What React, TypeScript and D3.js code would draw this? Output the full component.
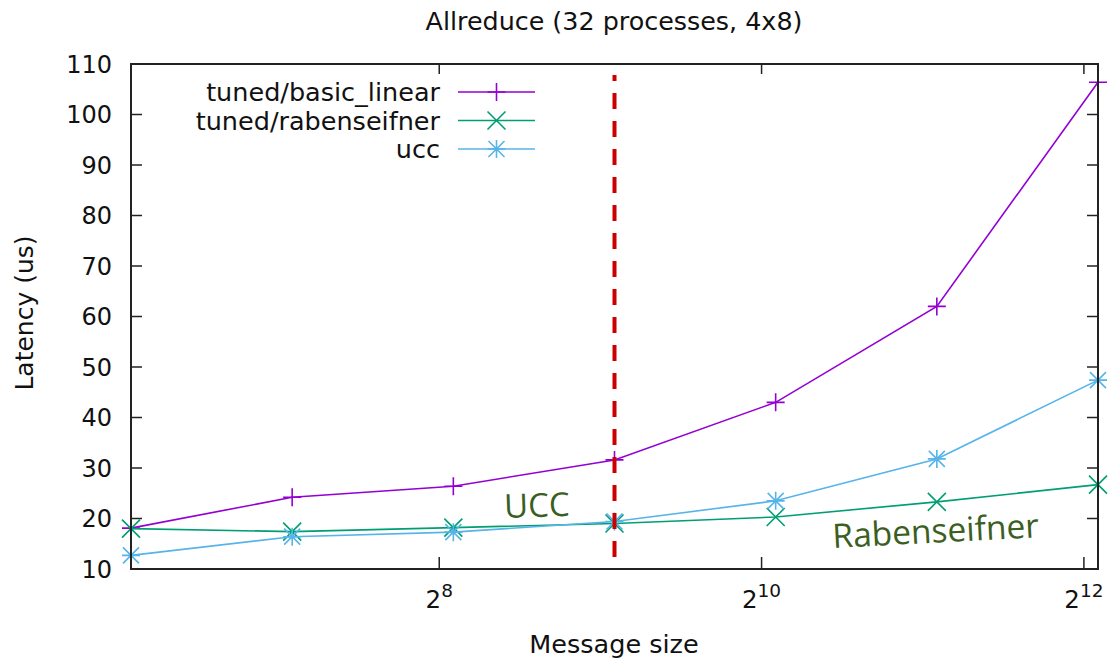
import React from "react";
import * as d3 from "d3";

// Message sizes (bytes) and measured latencies (us)
const messageSizes = [68, 136, 272, 544, 1088, 2176, 4352];
const basicLinear = [18.1, 24.2, 26.4, 31.6, 43.0, 62.0, 106.4];
const rabenseifner = [18.0, 17.4, 18.2, 19.0, 20.3, 23.3, 26.7];
const ucc = [12.7, 16.4, 17.3, 19.4, 23.5, 31.8, 47.4];

const xTickExponents = [8, 10, 12];
const yTicks = [10, 20, 30, 40, 50, 60, 70, 80, 90, 100, 110];

// Switch-over point between UCC and Rabenseifner
const switchSize = 544;
const switchSpan = [12.4, 107.8];

type Series = { name: string; values: number[]; color: string; marker: "plus" | "cross" | "star" };

const series: Series[] = [
  { name: "tuned/basic_linear", values: basicLinear, color: "#9400d3", marker: "plus" },
  { name: "tuned/rabenseifner", values: rabenseifner, color: "#009e73", marker: "cross" },
  { name: "ucc", values: ucc, color: "#56b4e9", marker: "star" },
];

const W = 1112;
const H = 658;
const M = { left: 131, right: 1098, top: 64, bottom: 569 };
const FONT = "DejaVu Sans, sans-serif";

function Marker({ x, y, kind, color }: { x: number; y: number; kind: string; color: string }) {
  const p = 9;
  const c = kind === "star" ? 8 : 9;
  const parts: string[] = [];
  if (kind === "plus" || kind === "star") {
    parts.push(`M${x - p},${y}H${x + p}M${x},${y - p}V${y + p}`);
  }
  if (kind === "cross" || kind === "star") {
    parts.push(`M${x - c},${y - c}L${x + c},${y + c}M${x - c},${y + c}L${x + c},${y - c}`);
  }
  return <path d={parts.join("")} stroke={color} strokeWidth={1.6} fill="none" />;
}

export default function App() {
  const x = d3.scaleLog().base(2).domain([messageSizes[0], messageSizes[messageSizes.length - 1]]).range([M.left, M.right]);
  const y = d3.scaleLinear().domain([10, 110]).range([M.bottom, M.top]);
  const line = d3
    .line<number>()
    .x((_, i) => x(messageSizes[i]))
    .y((v) => y(v));

  const tick = 11;
  const legendX0 = 458;
  const legendX1 = 535;
  const legendRows = [92, 120.5, 149];

  return (
    <svg width={W} height={H} style={{ display: "block", position: "absolute", left: 0, top: 0 }} fontFamily={FONT}>
      <rect width={W} height={H} fill="#fff" />
      <text x={614} y={30} fontSize={25.4} textAnchor="middle" fill="#111">
        Allreduce (32 processes, 4x8)
      </text>

      {/* y ticks on both sides */}
      {yTicks.map((t) => (
        <g key={t}>
          <line x1={M.left} x2={M.left + tick} y1={y(t)} y2={y(t)} stroke="#222" strokeWidth={1.5} />
          <line x1={M.right} x2={M.right - tick} y1={y(t)} y2={y(t)} stroke="#222" strokeWidth={1.5} />
          <text x={112} y={y(t)} dy="0.36em" fontSize={24} textAnchor="end" fill="#111">
            {t}
          </text>
        </g>
      ))}

      {/* x ticks (powers of two) */}
      {xTickExponents.map((e) => {
        const px = x(Math.pow(2, e));
        return (
          <g key={e}>
            <line x1={px} x2={px} y1={M.bottom} y2={M.bottom - tick - 1} stroke="#222" strokeWidth={1.5} />
            <line x1={px} x2={px} y1={M.top} y2={M.top + tick - 1} stroke="#222" strokeWidth={1.5} />
            <text x={px} y={608} fontSize={24.5} textAnchor="middle" fill="#111">
              <tspan>2</tspan>
              <tspan dy={-11} fontSize={18.5}>
                {e}
              </tspan>
            </text>
          </g>
        );
      })}

      <text x={614} y={653} fontSize={25.5} textAnchor="middle" fill="#111">
        Message size
      </text>
      <text transform={`translate(33,${313}) rotate(-90)`} fontSize={25} textAnchor="middle" fill="#111">
        Latency (us)
      </text>

      {/* data */}
      {series.map((s) => (
        <g key={s.name}>
          <path d={line(s.values) || ""} fill="none" stroke={s.color} strokeWidth={1.6} />
          {s.values.map((v, i) => (
            <Marker key={i} x={x(messageSizes[i])} y={y(v)} kind={s.marker} color={s.color} />
          ))}
        </g>
      ))}

      {/* switch-over marker */}
      <line
        x1={x(switchSize)}
        x2={x(switchSize)}
        y1={y(switchSpan[0])}
        y2={y(switchSpan[1])}
        stroke="#cc0000"
        strokeWidth={4}
        strokeDasharray="16 12"
      />

      <text x={504} y={517} fontSize={33} fontFamily="Open Sans, sans-serif" fill="#3b5e23" transform="rotate(-2 536 505)">
        UCC
      </text>
      <text x={833} y={548} fontSize={33.5} fontFamily="Open Sans, sans-serif" fill="#3b5e23" transform="rotate(-3 833 548)">
        Rabenseifner
      </text>

      {/* legend */}
      {series.map((s, i) => (
        <g key={s.name}>
          <text x={440} y={legendRows[i]} dy="0.36em" fontSize={25.5} textAnchor="end" fill="#111">
            {s.name}
          </text>
          <line x1={legendX0} x2={legendX1} y1={legendRows[i]} y2={legendRows[i]} stroke={s.color} strokeWidth={1.6} />
          <Marker x={(legendX0 + legendX1) / 2} y={legendRows[i]} kind={s.marker} color={s.color} />
        </g>
      ))}

      {/* frame */}
      <rect x={M.left} y={M.top} width={M.right - M.left} height={M.bottom - M.top} fill="none" stroke="#222" strokeWidth={2} />
    </svg>
  );
}
